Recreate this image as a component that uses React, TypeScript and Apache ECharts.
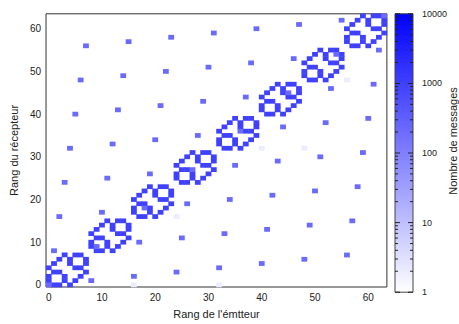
import React, { useEffect, useRef } from "react";
import * as echarts from "echarts";

// Ranks 0..63 (category axis)
const ranks: string[] = Array.from({ length: 64 }, (_, i) => String(i));
const rankTickLabels = [0, 10, 20, 30, 40, 50, 60];

// 8 diagonal blocks, each with a 3D-hypercube exchange pattern [senderOffset, receiverOffset]
const blockStarts = [0, 8, 16, 24, 32, 40, 48, 56];
const hypercubeOffsets: [number, number][] = [
  [1, 0], [2, 0], [4, 0],
  [0, 1], [3, 1], [5, 1],
  [3, 2], [0, 2], [6, 2],
  [2, 3], [1, 3], [7, 3],
  [5, 4], [6, 4], [0, 4],
  [4, 5], [7, 5], [1, 5],
  [7, 6], [4, 6], [2, 6],
  [6, 7], [5, 7], [3, 7],
];
const hypercubeMessages = 1000;

// Transpose-like exchanges [sender, receiver]
const transposePairs: [number, number][] = [
  [0, 0], [1, 8], [2, 16], [3, 24], [4, 32], [5, 40], [6, 48], [7, 56],
  [8, 1], [9, 9], [10, 17], [11, 25], [12, 33], [13, 41], [14, 49], [15, 57],
  [16, 2], [17, 10], [18, 18], [19, 26], [20, 34], [21, 42], [22, 50], [23, 58],
  [24, 3], [25, 11], [26, 19], [27, 27], [28, 35], [29, 43], [30, 51], [31, 59],
  [32, 4], [33, 12], [34, 20], [35, 28], [36, 36], [37, 44], [38, 52], [39, 60],
  [40, 5], [41, 13], [42, 21], [43, 29], [44, 37], [45, 45], [46, 53], [47, 61],
  [48, 6], [49, 14], [50, 22], [51, 30], [52, 38], [53, 46], [54, 54], [55, 62],
  [56, 7], [57, 15], [58, 23], [59, 31], [60, 39], [61, 47], [62, 55], [63, 63],
];
const transposeMessages = 220;

// Few-message tree exchanges [sender, receiver]
const treePairs: [number, number][] = [
  [16, 0], [32, 0], [24, 16], [40, 32], [48, 32], [56, 48],
];
const treeMessages = 2;

// Colour bar ticks
const cbMajorTicks = [1, 10, 100, 1000, 10000];
const cbMinorFactors = [2, 3, 4, 5, 6, 7, 8, 9];

const FONT = "Liberation Sans";

export default function App() {
  const ref = useRef<HTMLDivElement>(null);

  useEffect(() => {
    if (!ref.current) return;
    const chart = echarts.init(ref.current, undefined, { renderer: "svg" });

    const cells = new Map<string, [number, number, number]>();
    const put = (x: number, y: number, v: number) =>
      cells.set(x + "," + y, [x, y, Math.log10(v)]);
    treePairs.forEach(([x, y]) => put(x, y, treeMessages));
    blockStarts.forEach((b) =>
      hypercubeOffsets.forEach(([dx, dy]) => put(b + dx, b + dy, hypercubeMessages))
    );
    transposePairs.forEach(([x, y]) => put(x, y, transposeMessages));
    const heatData = Array.from(cells.values());

    const minorTicks: number[] = [];
    for (let d = 0; d < cbMajorTicks.length - 1; d++) {
      cbMinorFactors.forEach((f) => minorTicks.push(f * cbMajorTicks[d]));
    }

    const option: any = {
      animation: false,
      backgroundColor: "#ffffff",
      textStyle: { fontFamily: FONT },
      grid: [
        {
          left: 41.3, top: 13.8, width: 345.6, height: 278.4,
          show: true, borderColor: "#333", borderWidth: 1,
          backgroundColor: "transparent",
        },
        { left: 395, top: 13.8, width: 18, height: 278.4, show: false },
      ],
      xAxis: [
        {
          type: "category", gridIndex: 0, data: ranks,
          axisLine: { show: false }, axisTick: { show: false },
          splitLine: { show: false },
          axisLabel: {
            interval: (i: number) => rankTickLabels.includes(i),
            color: "#222", fontSize: 10, margin: 5, fontFamily: FONT,
          },
          name: "Rang de l'émtteur", nameLocation: "middle", nameGap: 21,
          nameTextStyle: { color: "#222", fontSize: 11, fontFamily: FONT },
        },
        {
          type: "value", gridIndex: 1, min: 0, max: 1, show: false,
        },
      ],
      yAxis: [
        {
          type: "category", gridIndex: 0, data: ranks,
          axisLine: { show: false }, axisTick: { show: false },
          splitLine: { show: false },
          axisLabel: {
            interval: (i: number) => rankTickLabels.includes(i),
            color: "#222", fontSize: 10, margin: 5, fontFamily: FONT,
          },
          name: "Rang du récepteur", nameLocation: "middle", nameGap: 24,
          nameTextStyle: { color: "#222", fontSize: 11, fontFamily: FONT },
        },
        {
          type: "value", gridIndex: 1, min: 0, max: 4, interval: 1,
          position: "right",
          axisLine: { show: false }, axisTick: { show: false },
          splitLine: { show: false },
          axisLabel: {
            formatter: (v: number) => String(Math.round(Math.pow(10, v))),
            color: "#222", fontSize: 9, margin: 9, fontFamily: FONT,
          },
        },
      ],
      visualMap: {
        show: false, type: "continuous", min: 0, max: 4, seriesIndex: 0,
        inRange: { color: ["#ffffff", "#0000ff"] },
      },
      series: [
        {
          type: "heatmap", xAxisIndex: 0, yAxisIndex: 0, data: heatData,
          itemStyle: { borderWidth: 0 },
          emphasis: { disabled: true },
        },
        {
          type: "custom", xAxisIndex: 1, yAxisIndex: 1, data: [[0, 0]],
          silent: true,
          renderItem: (params: any, api: any) => {
            const bl = api.coord([0, 0]);
            const tr = api.coord([1, 4]);
            const x0 = bl[0], y0 = tr[1], w = tr[0] - bl[0], h = bl[1] - tr[1];
            const children: any[] = [
              {
                type: "rect",
                shape: { x: x0, y: y0, width: w, height: h },
                style: {
                  fill: new echarts.graphic.LinearGradient(0, 0, 0, 1, [
                    { offset: 0, color: "#0000ff" },
                    { offset: 1, color: "#ffffff" },
                  ]),
                  stroke: "#444", lineWidth: 1,
                },
              },
            ];
            const tick = (v: number, len: number) => {
              const y = api.coord([0, Math.log10(v)])[1];
              children.push({
                type: "line",
                shape: { x1: x0, y1: y, x2: x0 + len, y2: y },
                style: { stroke: "#222", lineWidth: 1 },
              });
              children.push({
                type: "line",
                shape: { x1: x0 + w, y1: y, x2: x0 + w - len, y2: y },
                style: { stroke: "#222", lineWidth: 1 },
              });
            };
            cbMajorTicks.forEach((v) => tick(v, 5));
            minorTicks.forEach((v) => tick(v, 3));
            return { type: "group", children };
          },
        },
      ],
      graphic: [
        {
          type: "text", x: 453, y: 141, rotation: Math.PI / 2,
          style: {
            text: "Nombre de messages", fill: "#222", fontSize: 11,
            fontFamily: FONT, align: "center", verticalAlign: "middle",
          },
        },
      ],
    };

    chart.setOption(option);
    return () => chart.dispose();
  }, []);

  return (
    <div
      ref={ref}
      style={{ position: "fixed", left: 0, top: 0, width: 459, height: 324 }}
    />
  );
}
